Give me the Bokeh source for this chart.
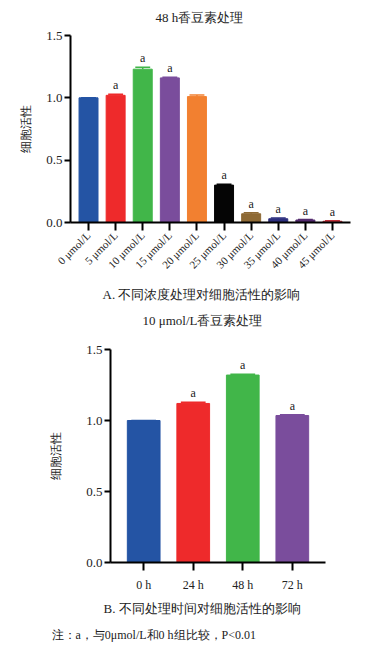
import math
from bokeh.plotting import figure
from bokeh.models import FactorRange, Range1d, Title, ColumnDataSource, FixedTicker, NumeralTickFormatter
from bokeh.embed import file_html
from bokeh.resources import INLINE

# ---- data ----
conc_labels = ["0 μmol/L", "5 μmol/L", "10 μmol/L", "15 μmol/L", "20 μmol/L",
               "25 μmol/L", "30 μmol/L", "35 μmol/L", "40 μmol/L", "45 μmol/L"]
conc_values = [1.00, 1.02, 1.23, 1.16, 1.01, 0.30, 0.07, 0.03, 0.02, 0.01]
conc_err = [0.0, 0.008, 0.015, 0.005, 0.012, 0.006, 0.008, 0.006, 0.004, 0.004]
conc_sig = ["", "a", "a", "a", "", "a", "a", "a", "a", "a"]
conc_colors = ["#2454A4", "#EE2A2B", "#41B649", "#7A4D9C", "#F28030",
               "#050505", "#8E6A35", "#2D2F7E", "#532B6E", "#C0303A"]

time_labels = ["0 h", "24 h", "48 h", "72 h"]
time_values = [1.00, 1.12, 1.32, 1.035]
time_err = [0.0, 0.008, 0.006, 0.006]
time_sig = ["", "a", "a", "a"]
time_colors = ["#2454A4", "#EE2A2B", "#41B649", "#7A4D9C"]

y_ticks = [0, 0.5, 1.0, 1.5]

FONT = "Liberation Serif"


def add_title(p, text, side, offset, standoff, size="13px"):
    t = Title(text=text, align="left", offset=offset, standoff=standoff,
              vertical_align="top", text_font=FONT, text_font_size=size,
              text_font_style="normal", text_color="#222222")
    p.add_layout(t, side)
    return t


def make_panel(labels, values, err, sig, colors, fw, fh,
               left, right, top, bottom, pad, bar_w, cap_w, rotate,
               ylabel_standoff, tick_font):
    src = ColumnDataSource(dict(
        x=labels, top=values, err_top=[v + e for v, e in zip(values, err)],
        sig=sig, color=colors))
    p = figure(x_range=FactorRange(factors=labels, range_padding=pad,
                                   range_padding_units="absolute"),
               y_range=Range1d(0, 1.5),
               frame_width=fw, frame_height=fh,
               min_border_left=left, min_border_right=right,
               min_border_top=top, min_border_bottom=bottom,
               output_backend="svg", toolbar_location=None,
               background_fill_color="white", border_fill_color="white")
    p.outline_line_color = None
    p.grid.visible = False

    p.vbar(x="x", top="top", bottom=0, width=bar_w, source=src,
           fill_color="color", line_color="color", line_width=1)
    p.segment(x0="x", y0="top", x1="x", y1="err_top", source=src,
              line_color="color", line_width=1.5)
    p.rect(x="x", y="err_top", width=cap_w, height=1.5, height_units="screen",
           source=src, fill_color="color", line_color=None)
    p.text(x="x", y="err_top", text="sig", source=src, y_offset=-9,
           text_align="center", text_baseline="alphabetic",
           text_font={"value": FONT}, text_font_size="12px", text_color="#222222")

    ya = p.yaxis[0]
    ya.ticker = FixedTicker(ticks=y_ticks)
    ya.formatter = NumeralTickFormatter(format="0.0")
    ya.minor_tick_line_color = None
    ya.major_tick_out = 6
    ya.major_tick_in = 0
    ya.major_tick_line_width = 2
    ya.axis_line_width = 2
    ya.major_label_text_font = FONT
    ya.major_label_text_font_size = "13px"
    ya.major_label_text_color = "#222222"
    ya.major_label_standoff = 2
    ya.axis_label = "细胞活性"
    ya.axis_label_text_font = FONT
    ya.axis_label_text_font_size = "12px"
    ya.axis_label_text_font_style = "normal"
    ya.axis_label_text_color = "#222222"
    ya.axis_label_standoff = ylabel_standoff

    xa = p.xaxis[0]
    xa.major_tick_out = 8
    xa.major_tick_in = 0
    xa.major_tick_line_width = 2
    xa.axis_line_width = 2
    xa.major_label_text_font = FONT
    xa.major_label_text_font_size = tick_font
    xa.major_label_text_color = "#222222"
    xa.major_label_standoff = 7
    if rotate:
        xa.major_label_orientation = math.pi / 4
        xa.major_label_standoff = 3
    return p


p1 = make_panel(conc_labels, conc_values, conc_err, conc_sig, conc_colors,
                fw=280, fh=187, left=70, right=17, top=35, bottom=110,
                pad=0.165, bar_w=0.7, cap_w=0.55, rotate=True,
                ylabel_standoff=10, tick_font="11px")
p1.title.text = "48 h香豆素处理"
p1.title.align = "left"
p1.title.offset = 85
p1.title.standoff = 17
p1.title.vertical_align = "top"
p1.title.text_font = FONT
p1.title.text_font_size = "13px"
p1.title.text_font_style = "normal"
p1.title.text_color = "#222222"
add_title(p1, "A. 不同浓度处理对细胞活性的影响", "below", offset=32, standoff=18)
add_title(p1, "10 μmol/L香豆素处理", "below", offset=72, standoff=0)

p2 = make_panel(time_labels, time_values, time_err, time_sig, time_colors,
                fw=215, fh=213, left=110, right=42, top=17, bottom=84,
                pad=0.17, bar_w=0.66, cap_w=0.5, rotate=False,
                ylabel_standoff=20, tick_font="12px")
add_title(p2, "B. 不同处理时间对细胞活性的影响", "below", offset=-7, standoff=12)
add_title(p2, "注：a，与0μmol/L和0 h组比较，P<0.01", "below", offset=-59, standoff=8, size="12px")

open("out.html", "w").write(file_html([p1, p2], INLINE))
